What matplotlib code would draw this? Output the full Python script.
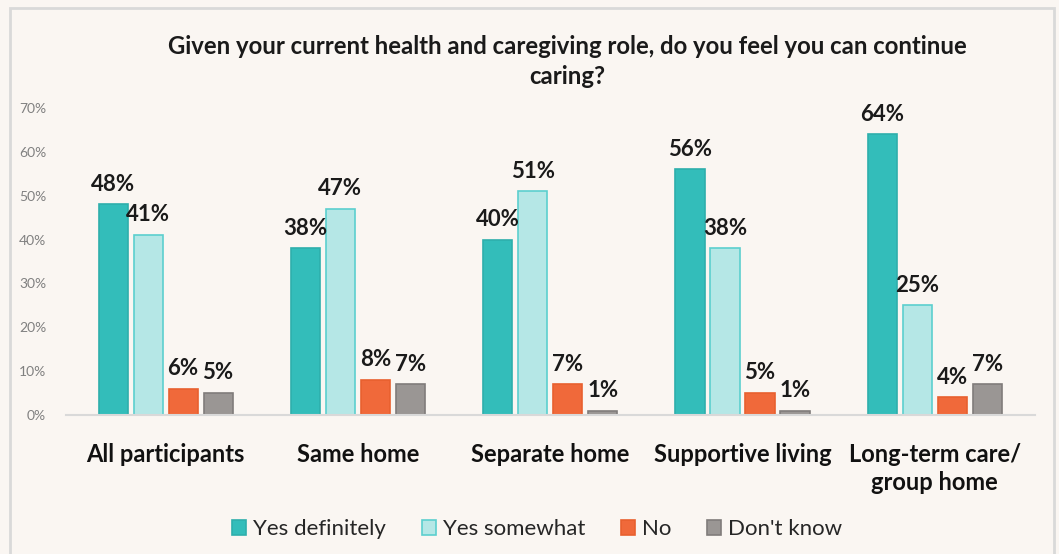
import matplotlib
matplotlib.use('Agg')
import matplotlib.pyplot as plt
import numpy as np
from matplotlib.patches import Rectangle

plt.rcParams['font.family'] = ['Lato', 'DejaVu Sans']

# --- Data ---
categories = ['All participants', 'Same home', 'Separate home',
              'Supportive living', 'Long-term care/\ngroup home']
series_names = ['Yes definitely', 'Yes somewhat', 'No', "Don't know"]
yes_definitely = [48, 38, 40, 56, 64]
yes_somewhat = [41, 47, 51, 38, 25]
no = [6, 8, 7, 5, 4]
dont_know = [5, 7, 1, 1, 7]
y_ticks = [0, 10, 20, 30, 40, 50, 60, 70]

series = [yes_definitely, yes_somewhat, no, dont_know]
fills = ['#33BDBA', '#B5E7E6', '#F0693A', '#9A9694']
edges = ['#2EAFAC', '#5CCFCE', '#E8602F', '#807C7B']

bg = '#FAF6F2'
fig = plt.figure(figsize=(10.59, 5.54), dpi=100, facecolor=bg)
ax = fig.add_axes([0.062, 0.251, 0.915, 0.554])
ax.set_facecolor(bg)

x = np.arange(len(categories))
width = 0.152
step = 0.182
offsets = (np.arange(4) - 1.5) * step

for vals, off, fc, ec, name in zip(series, offsets, fills, edges, series_names):
    bars = ax.bar(x + off, vals, width, color=fc, edgecolor=ec, linewidth=1.2, label=name)
    for b, v in zip(bars, vals):
        ax.annotate(f'{v}%', (b.get_x() + b.get_width() / 2, v),
                    xytext=(0, 7), textcoords='offset points',
                    ha='center', va='bottom', fontsize=16, fontweight='bold',
                    color='#1a1a1a')

ax.set_ylim(0, 70)
ax.set_xlim(-0.52, len(categories) - 0.48)
ax.set_yticks(y_ticks)
ax.set_yticklabels([f'{t}%' for t in y_ticks], color='#808080', fontsize=10)
ax.set_xticks(x)
ax.set_xticklabels(categories, fontsize=17, fontweight='bold', color='#111111',
                   linespacing=1.3)
ax.tick_params(axis='both', length=0)
ax.tick_params(axis='x', pad=20)
ax.tick_params(axis='y', pad=14)

for s in ['top', 'right', 'left']:
    ax.spines[s].set_visible(False)
ax.spines['bottom'].set_color('#D9D9D9')
ax.spines['bottom'].set_linewidth(1.5)

fig.text(0.536, 0.889,
         'Given your current health and caregiving role, do you feel you can continue\ncaring?',
         ha='center', va='center', fontsize=17.2, fontweight='bold', color='#1a1a1a',
         linespacing=1.35)

leg = fig.legend(loc='center', bbox_to_anchor=(0.507, 0.045), ncol=4, frameon=False,
                 fontsize=16, handlelength=0.65, handleheight=0.65,
                 handletextpad=0.3, columnspacing=1.6)
for t in leg.get_texts():
    t.set_color('#262626')

# outer frame
fig.patches.append(Rectangle((0.0095, -0.01), 0.986, 0.996, transform=fig.transFigure,
                             fill=False, edgecolor='#D9D9D9', linewidth=2))

fig.savefig('out.png', dpi=100, facecolor=bg)
